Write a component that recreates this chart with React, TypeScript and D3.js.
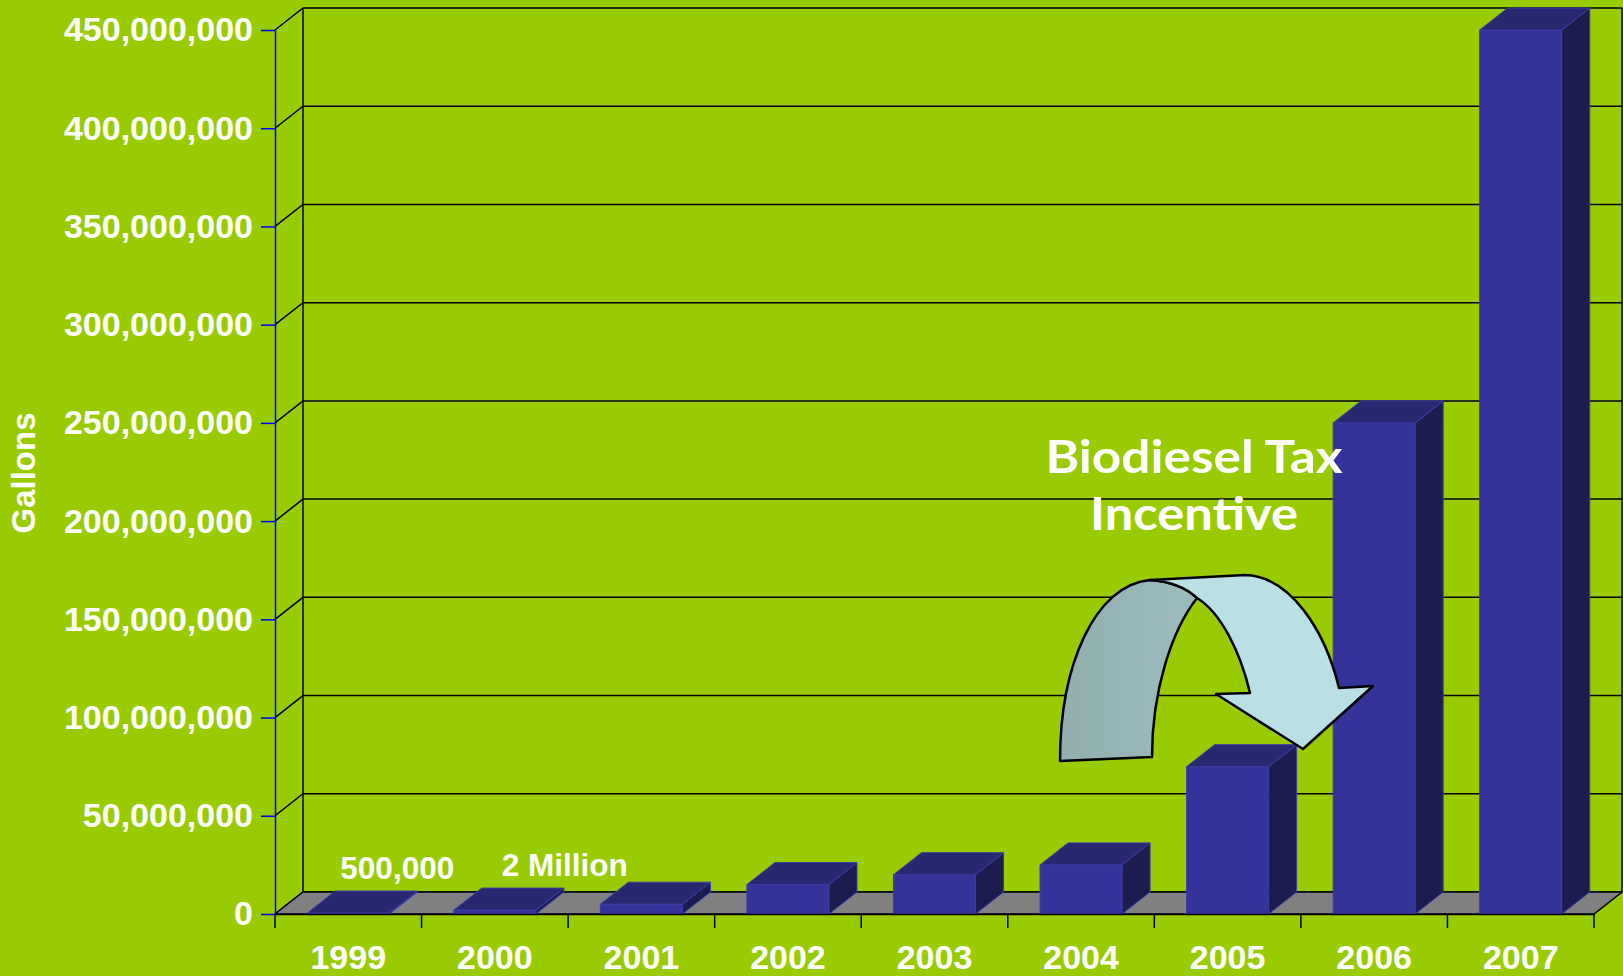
import React, { useEffect, useRef } from 'react';
import * as d3 from 'd3';

const years = ['1999', '2000', '2001', '2002', '2003', '2004', '2005', '2006', '2007'];
const gallons = [500000, 2000000, 5000000, 15000000, 20000000, 25000000, 75000000, 250000000, 450000000];
const yTicks = [0, 50000000, 100000000, 150000000, 200000000, 250000000, 300000000, 350000000, 400000000, 450000000];
const calloutYears = ['1999', '2000'];
const calloutTexts = ['500,000', '2 Million'];
const noteLines = ['Biodiesel Tax', 'Incentive'];

const W = 1623;
const H = 976;
const DX = 28; // depth of the 3d box
const DY = 22;
const font = '"Liberation Sans", Arial, sans-serif';

const App = () => {
    const yAxisRef = useRef<SVGGElement>(null);
    const xAxisRef = useRef<SVGGElement>(null);

    const x = d3.scaleBand<string>().domain(years).range([275, 1594]);
    const y = d3.scaleLinear().domain([0, 450000000]).range([914, 30]);
    const bw = x.bandwidth();
    const barW = bw * 0.56;
    const y0 = y(0);

    useEffect(() => {
        const yAxis = d3.axisLeft(y)
            .tickValues(yTicks)
            .tickSize(14)
            .tickSizeOuter(0)
            .tickPadding(8)
            .tickFormat(d3.format(','));
        const gy = d3.select(yAxisRef.current!).call(yAxis as any);
        gy.select('.domain').attr('stroke', '#0000FF').attr('stroke-width', 1.5);
        gy.selectAll('.tick line').attr('stroke', '#0000FF').attr('stroke-width', 1.5);
        gy.selectAll('.tick text')
            .attr('fill', '#fff')
            .style('font-family', font)
            .style('font-weight', 'bold')
            .style('font-size', '34px');

        const xAxis = d3.axisBottom(x).tickSize(0).tickSizeOuter(0).tickPadding(31);
        const gx = d3.select(xAxisRef.current!).call(xAxis as any);
        gx.select('.domain').attr('stroke', '#000').attr('stroke-width', 1.5);
        gx.selectAll('.tick text')
            .attr('fill', '#fff')
            .style('font-family', font)
            .style('font-weight', 'bold')
            .style('font-size', '34px');
        // ticks sit on the category boundaries
        const bounds = [...years.map(d => x(d)!), x.range()[1]];
        gx.selectAll('.bound')
            .data(bounds)
            .join('line')
            .attr('class', 'bound')
            .attr('x1', d => d)
            .attr('x2', d => d)
            .attr('y1', 0)
            .attr('y2', 14)
            .attr('stroke', '#000')
            .attr('stroke-width', 1.5);
    }, []);

    const left = x.range()[0];
    const right = x.range()[1];

    return (
        <svg width={W} height={H} style={{ position: 'absolute', left: 0, top: 0 }}>
            <defs>
                <linearGradient id="backRibbon" x1="0" x2="1" y1="0" y2="0">
                    <stop offset="0%" stopColor="#92AEAF" />
                    <stop offset="100%" stopColor="#9CBCBE" />
                </linearGradient>
            </defs>
            <rect width={W} height={H} fill="#99CC00" />

            {/* walls and gridlines */}
            <g stroke="#000" strokeWidth={1.5} fill="none">
                {yTicks.map(t => (
                    <polyline key={t}
                        points={`${left},${y(t)} ${left + DX},${y(t) - DY} ${right + DX},${y(t) - DY}`} />
                ))}
                <line x1={left + DX} x2={left + DX} y1={y(450000000) - DY} y2={y0 - DY} />
                <line x1={right + DX} x2={right + DX} y1={y(450000000) - DY} y2={y0 - DY} />
            </g>
            <polygon
                points={`${left},${y0} ${right},${y0} ${right + DX},${y0 - DY} ${left + DX},${y0 - DY}`}
                fill="#808080" stroke="#000" strokeWidth={1.5} />

            {/* bars */}
            {years.map((yr, i) => {
                const x0 = x(yr)! + (bw - barW) / 2;
                const yt = y(gallons[i]);
                return (
                    <g key={yr} stroke="#3C3CAA" strokeWidth={1} strokeLinejoin="round">
                        <rect x={x0} y={yt} width={barW} height={y0 - yt} fill="#333399" />
                        <polygon fill="#1C1C4E"
                            points={`${x0 + barW},${yt} ${x0 + barW},${y0} ${x0 + barW + DX},${y0 - DY} ${x0 + barW + DX},${yt - DY}`} />
                        <polygon fill="#282870"
                            points={`${x0},${yt} ${x0 + barW},${yt} ${x0 + barW + DX},${yt - DY} ${x0 + DX},${yt - DY}`} />
                    </g>
                );
            })}

            <g ref={yAxisRef} transform={`translate(${left},0)`} />
            <g ref={xAxisRef} transform={`translate(0,${y0})`} />

            {/* value callouts for the tiny bars */}
            {calloutYears.map((yr, i) => {
                const v = gallons[years.indexOf(yr)];
                const dx = [49, 70][i];
                return (
                    <text key={yr} x={x(yr)! + bw / 2 + dx} y={y(v) - DY - 12}
                        textAnchor="middle" fill="#fff"
                        style={{ font: `bold 31.5px ${font}` }}>{calloutTexts[i]}</text>
                );
            })}

            <text transform="translate(35,473) rotate(-90)" textAnchor="middle" fill="#fff"
                style={{ font: `bold 33px ${font}` }}>Gallons</text>

            {/* curved arrow */}
            <g stroke="#000" strokeWidth={2.5} strokeLinejoin="round">
                <path fill="url(#backRibbon)"
                    d="M1060,761 C1060,665 1095,585 1150,580 Q1180,582 1197,598 C1172,630 1152,690 1152,757 Z" />
                <path fill="#B9E0E5"
                    d="M1150,580 L1245,575 C1290,576 1325,630 1339,688 L1373,686 L1303,749 L1216,694 L1250,693 C1240,650 1220,612 1197,598 Q1180,582 1150,580 Z" />
            </g>

            {noteLines.map((ln, i) => (
                <text key={ln} x={1194} y={473 + i * 57} textAnchor="middle" fill="#fff"
                    textLength={i === 0 ? 297 : 208} lengthAdjust="spacingAndGlyphs"
                    style={{ font: 'bold 45px Lato, "DejaVu Sans", sans-serif' }}>{ln}</text>
            ))}
        </svg>
    );
};

export default App;
